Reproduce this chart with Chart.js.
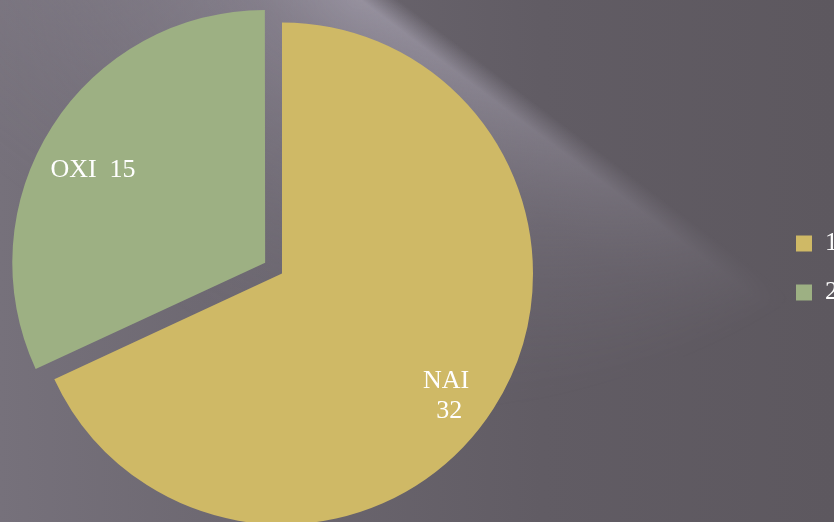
<!DOCTYPE html>
<html>
<head>
<meta charset="utf-8">
<script src="https://cdn.jsdelivr.net/npm/chart.js@4"></script>
<style>
  html, body { margin: 0; padding: 0; width: 834px; height: 522px; overflow: hidden; }
  body {
    position: relative;
    background: linear-gradient(90deg, #76717b 0%, #6c6770 30%, #615c64 65%, #5d585f 100%);
  }
  #streak {
    position: absolute; left: 0; top: 0; width: 834px; height: 522px;
    background: linear-gradient(37deg, rgba(160,154,170,0) 30%, rgba(160,154,170,0.55) 62%, rgba(165,160,175,0.75) 69%, rgba(160,154,170,0) 71.5%);
    -webkit-mask-image: radial-gradient(ellipse 620px 420px at 360px 0px, #000 0%, rgba(0,0,0,0.5) 50%, rgba(0,0,0,0) 100%);
    mask-image: radial-gradient(ellipse 620px 420px at 360px 0px, #000 0%, rgba(0,0,0,0.5) 50%, rgba(0,0,0,0) 100%);
  }
  #wrap { position: absolute; left: -209px; top: -4px; width: 1057px; height: 544px; }
</style>
</head>
<body>
<div id="streak"></div>
<div id="wrap"><canvas id="pieChart" width="1057" height="544"></canvas></div>
<script>
// donnees
const categories = ["NAI", "OXI"];
const values = [32, 15];
const legendLabels = ["1", "2"];
const colors = ["#cfb966", "#9db083"];

// etiquettes dans les parts : "NAI\n32" et "OXI  15"
const sliceLabels = {
  id: "sliceLabels",
  afterDatasetsDraw(chart) {
    const ctx = chart.ctx;
    const meta = chart.getDatasetMeta(0);
    ctx.save();
    ctx.fillStyle = "#ffffff";
    ctx.font = "26px 'Liberation Serif'";
    ctx.textAlign = "center";
    ctx.textBaseline = "middle";
    meta.data.forEach((arc, i) => {
      const p = arc.getProps(["x", "y", "startAngle", "endAngle", "outerRadius"], true);
      const mid = (p.startAngle + p.endAngle) / 2;
      const shift = (arc.options.offset || 0) / 4;
      const r = p.outerRadius * 0.79 + shift;
      const x = p.x + Math.cos(mid) * r - 5;
      const y = p.y + Math.sin(mid) * r + 15;
      if (i === 0) {
        ctx.fillText(categories[i], x + 2, y - 14);
        ctx.fillText(String(values[i]), x + 5, y + 16);
      } else {
        ctx.fillText(categories[i] + "  " + values[i], x, y - 1);
      }
    });
    ctx.restore();
  }
};

const ctx = document.getElementById("pieChart").getContext("2d");
new Chart(ctx, {
  type: "pie",
  data: {
    labels: legendLabels,
    datasets: [
      {
        data: values,
        backgroundColor: colors,
        borderWidth: 0,
        offset: [0, 80],
        hoverOffset: 0,
      },
    ],
  },
  options: {
    responsive: false,
    animation: false,
    devicePixelRatio: 1,
    radius: 251,
    plugins: {
      tooltip: { enabled: false },
      // titre vide : decale la zone du graphique sous la legende
      title: {
        display: true,
        text: "",
        font: { size: 1, lineHeight: 1 },
        padding: { top: 0, bottom: 10 },
      },
      legend: {
        position: "right",
        labels: {
          boxWidth: 16,
          boxHeight: 16,
          padding: 23,
          color: "#ffffff",
          font: { family: "'Liberation Serif'", size: 26 },
        },
      },
    },
  },
  plugins: [sliceLabels],
});
</script>
</body>
</html>
